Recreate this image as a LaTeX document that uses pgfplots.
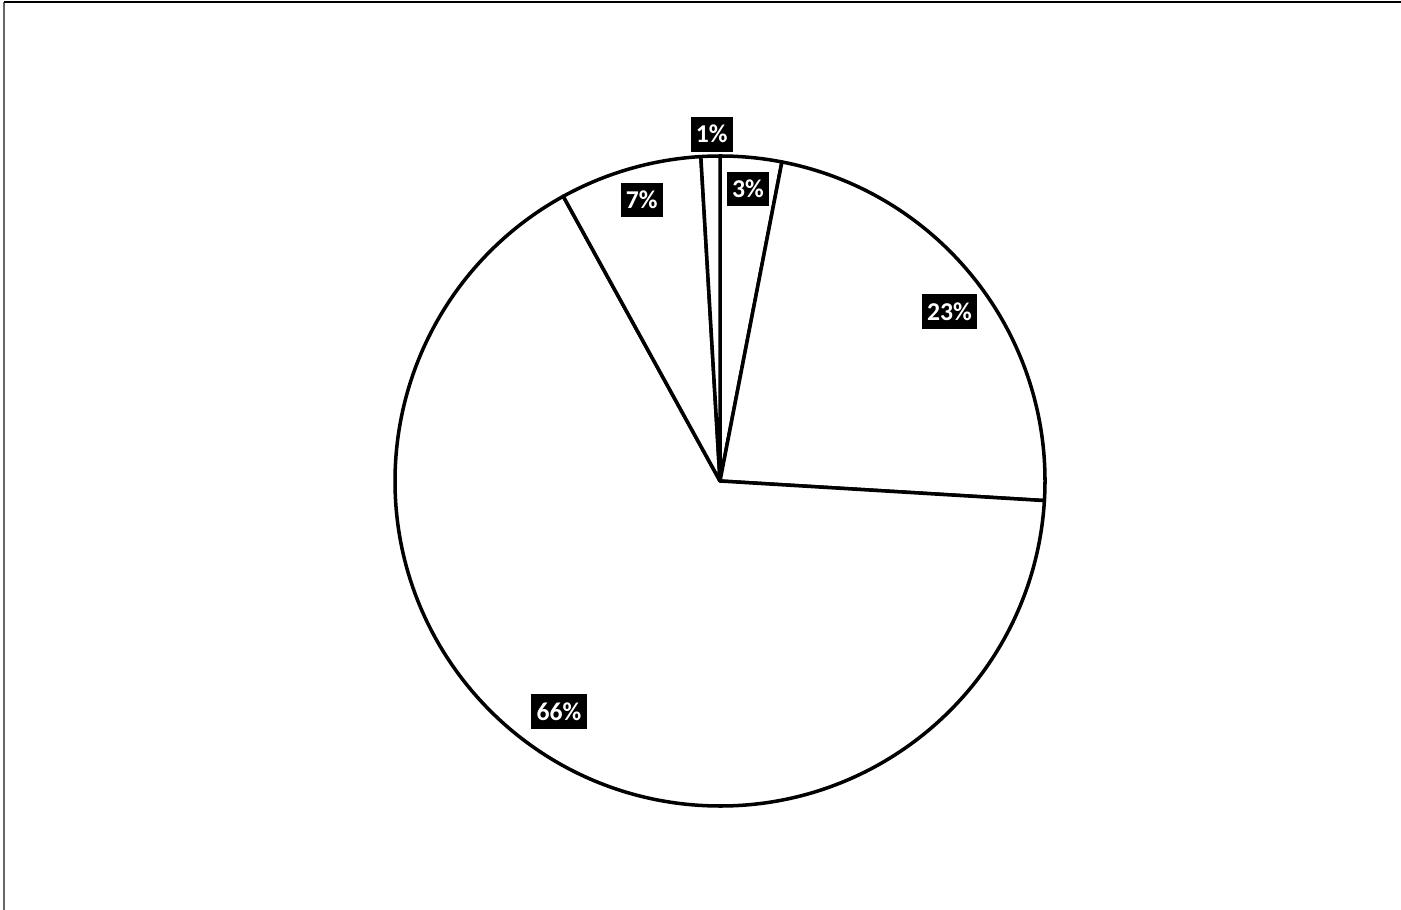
\documentclass[border=0pt]{standalone}
\usepackage{pgfplots}
\usepackage{pgfplotstable}
\pgfplotsset{compat=1.18}
\usepackage{fontspec}
\setmainfont{Carlito}

% slice shares (percent), clockwise from 12 o'clock, with label positions
\pgfplotstableread{
pct   lab lx      ly
3.05  3   0.0862  0.8985
22.91 23  0.7062  0.5209
66.03 66  -0.4954 -0.7098
7.07  7   -0.2409 0.8646
0.94  1   -0.0255 1.0671
}\piedata
\pgfplotstablecreatecol[create col/expr accum={\pgfmathaccuma + \thisrow{pct}}{0}]{cum}\piedata

\tikzset{
    pieslice/.style={draw=black, fill=white, line width=1pt, line join=round},
    pielabel/.style={fill=black, text=white, font=\bfseries\fontsize{7.3}{8}\selectfont,
        inner xsep=1.5pt, inner ysep=0pt, text height=5pt, text depth=0pt,
        minimum height=9.9pt},
}

\begin{document}
\begin{tikzpicture}
\begin{axis}[
    width=14.01cm, height=9.09cm,
    scale only axis,
    hide axis,
    xmin=-2.21538, xmax=2.09538,
    ymin=-1.31692, ymax=1.48,
]
\path (rel axis cs:0,0) rectangle (rel axis cs:1,1);
% chart area frame (left and top edges)
\addplot[black!60, line width=0.6pt] coordinates {(-2.2031,-1.4) (-2.2031,1.4738)};
\addplot[black, line width=0.45pt] coordinates {(-2.2031,1.4738) (2.2,1.4738)};

\foreach \i in {0,...,4}{
    \pgfplotstablegetelem{\i}{cum}\of\piedata \let\c\pgfplotsretval
    \pgfplotstablegetelem{\i}{pct}\of\piedata \let\p\pgfplotsretval
    \pgfmathsetmacro\sa{90-3.6*(\c-\p)}
    \pgfmathsetmacro\ea{90-3.6*\c}
    \edef\slice{\noexpand\draw[pieslice] (axis cs:0,0) -- (axis cs:{cos(\sa)},{sin(\sa)})
        arc[start angle=\sa, end angle=\ea, radius=3.25cm] -- cycle;}
    \slice
}
\foreach \i in {0,...,4}{
    \pgfplotstablegetelem{\i}{lab}\of\piedata \let\l\pgfplotsretval
    \pgfplotstablegetelem{\i}{lx}\of\piedata \let\x\pgfplotsretval
    \pgfplotstablegetelem{\i}{ly}\of\piedata \let\y\pgfplotsretval
    \edef\lbl{\noexpand\node[pielabel] at (axis cs:\x,\y) {\l\noexpand\%};}
    \lbl
}
\end{axis}
\end{tikzpicture}
\end{document}
